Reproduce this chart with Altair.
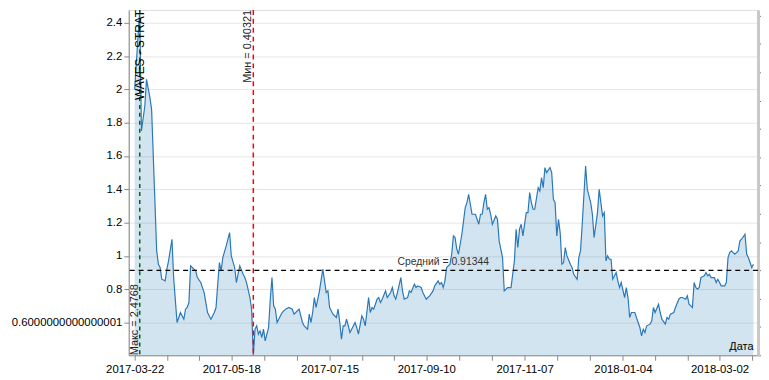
import json
import altair as alt
import pandas as pd

START = "2017-03-22"
day_offsets = [0, 3, 4, 6, 7, 9, 10, 13, 14, 15, 16, 18, 19, 20, 22, 23, 25, 27, 29, 30, 31, 32, 33, 36, 37, 39, 41, 43, 45, 47, 48, 49, 50, 51, 52, 54, 56, 57, 59, 60, 61, 62, 64, 65, 66, 68, 69, 70, 71, 72, 73, 74, 75, 76, 77, 79, 80, 81, 82, 83, 84, 86, 87, 89, 91, 93, 94, 95, 97, 99, 100, 102, 103, 104, 105, 106, 107, 109, 111, 112, 113, 114, 115, 117, 119, 120, 121, 122, 123, 124, 125, 127, 128, 130, 131, 132, 134, 135, 136, 138, 139, 140, 141, 143, 144, 145, 146, 148, 149, 151, 152, 153, 154, 155, 157, 158, 159, 161, 162, 163, 165, 166, 167, 169, 170, 172, 173, 174, 176, 177, 179, 180, 181, 182, 183, 184, 186, 187, 188, 189, 190, 191, 193, 194, 195, 196, 197, 199, 201, 203, 204, 205, 206, 207, 208, 209, 210, 211, 213, 214, 215, 217, 218, 220, 221, 222, 224, 225, 226, 227, 228, 229, 231, 232, 233, 234, 235, 236, 238, 239, 240, 241, 242, 243, 245, 246, 247, 248, 249, 250, 251, 252, 253, 254, 255, 257, 258, 259, 261, 262, 263, 264, 266, 267, 269, 270, 271, 273, 274, 275, 276, 277, 278, 279, 280, 281, 282, 284, 285, 286, 287, 289, 290, 291, 292, 293, 295, 297, 298, 299, 300, 301, 302, 304, 305, 306, 307, 309, 310, 311, 313, 314, 315, 316, 318, 319, 321, 322, 323, 325, 326, 327, 329, 330, 331, 332, 333, 334, 336, 337, 338, 339, 340, 342, 343, 344, 345, 346, 348, 349, 350, 351, 352, 354, 355, 356, 357, 358, 360, 361, 362, 363, 364, 365]
values = [2.00, 2.4768, 1.75, 1.90, 2.06, 1.95, 1.88, 1.03, 0.95, 0.93, 0.86, 0.85, 0.92, 0.97, 1.10, 0.87, 0.60, 0.66, 0.62, 0.68, 0.69, 0.72, 0.94, 0.91, 0.87, 0.84, 0.78, 0.66, 0.62, 0.66, 0.69, 0.83, 0.96, 0.91, 0.99, 1.06, 1.14, 1.00, 0.93, 0.84, 0.89, 0.94, 0.89, 0.87, 0.84, 0.75, 0.68, 0.40321, 0.56, 0.58, 0.53, 0.55, 0.51, 0.56, 0.49, 0.57, 0.74, 0.87, 0.70, 0.68, 0.60, 0.64, 0.66, 0.68, 0.69, 0.68, 0.65, 0.66, 0.68, 0.60, 0.58, 0.56, 0.65, 0.60, 0.66, 0.75, 0.69, 0.79, 0.92, 0.85, 0.78, 0.79, 0.69, 0.65, 0.63, 0.68, 0.60, 0.50, 0.58, 0.58, 0.62, 0.54, 0.56, 0.60, 0.57, 0.53, 0.64, 0.62, 0.58, 0.75, 0.66, 0.69, 0.68, 0.74, 0.75, 0.72, 0.74, 0.79, 0.75, 0.78, 0.81, 0.76, 0.74, 0.78, 0.87, 0.79, 0.74, 0.75, 0.79, 0.78, 0.83, 0.81, 0.82, 0.81, 0.78, 0.74, 0.75, 0.76, 0.79, 0.82, 0.85, 0.83, 0.84, 0.81, 0.85, 0.93, 0.95, 1.01, 1.12, 1.11, 1.04, 1.01, 1.13, 1.21, 1.29, 1.32, 1.37, 1.25, 1.25, 1.19, 1.25, 1.25, 1.32, 1.37, 1.28, 1.29, 1.25, 1.19, 1.24, 1.22, 1.09, 0.99, 0.79, 0.81, 0.81, 0.81, 0.97, 1.16, 1.05, 1.16, 1.19, 1.12, 1.26, 1.26, 1.38, 1.32, 1.28, 1.28, 1.41, 1.39, 1.47, 1.41, 1.53, 1.50, 1.53, 1.50, 1.34, 1.32, 1.12, 1.22, 1.14, 0.95, 0.96, 1.05, 1.00, 0.95, 0.93, 0.89, 0.86, 0.99, 1.03, 1.19, 1.54, 1.40, 1.32, 1.25, 1.11, 1.26, 1.40, 1.32, 1.24, 1.26, 0.97, 1.00, 0.98, 0.98, 0.86, 0.90, 0.85, 0.81, 0.84, 0.75, 0.81, 0.75, 0.63, 0.66, 0.66, 0.60, 0.57, 0.52, 0.56, 0.54, 0.58, 0.59, 0.61, 0.69, 0.66, 0.71, 0.66, 0.62, 0.59, 0.63, 0.62, 0.65, 0.66, 0.69, 0.74, 0.75, 0.75, 0.74, 0.76, 0.71, 0.69, 0.84, 0.81, 0.80, 0.81, 0.87, 0.88, 0.90, 0.88, 0.89, 0.87, 0.87, 0.84, 0.86, 0.84, 0.82, 0.82, 0.84, 0.99, 1.02, 1.03, 1.01, 1.02, 1.03, 1.09, 1.10, 1.13, 1.01, 0.99, 0.96, 0.93, 0.95]

max_value = 2.4768
min_value = 0.40321
mean_value = 0.91344
max_day = 3
min_day = 70
title_text = "WAVES - STRAT"
max_label = "Макс = 2.4768"
min_label = "Мин = 0.40321"
mean_label = "Средний = 0.91344"
x_title = "Дата"
x_tick_labels = ["2017-03-22", "2017-05-18", "2017-07-15", "2017-09-10",
                 "2017-11-07", "2018-01-04", "2018-03-02"]
y_tick_values = [0.6000000000000001, 0.8, 1.0, 1.2, 1.4, 1.6, 1.8, 2.0, 2.2, 2.4]

FONT = "Liberation Sans"
start = pd.Timestamp(START)
epoch = pd.Timestamp("1970-01-01")


def d2s(d):
    return (start + pd.Timedelta(days=d)).strftime("%Y-%m-%d")


def ms(ts):
    return int(round((ts - epoch) / pd.Timedelta(milliseconds=1)))


df = pd.DataFrame({"date": [d2s(d) for d in day_offsets], "value": values})

x_domain = [ms(start - pd.Timedelta(days=3.5)), ms(start + pd.Timedelta(days=367.7))]

# labelled ticks on the label dates, two unlabelled ticks between each pair
label_ts = [pd.Timestamp(s) for s in x_tick_labels]
tick_vals = []
for a, b in zip(label_ts[:-1], label_ts[1:]):
    tick_vals += [ms(a), ms(a + (b - a) / 3), ms(a + 2 * (b - a) / 3)]
last_gap = (label_ts[-1] - label_ts[-2]) / 3
tick_vals += [ms(label_ts[-1]), ms(label_ts[-1] + last_gap)]

label_expr = ("indexof(" + json.dumps(x_tick_labels) + ", utcFormat(datum.value, '%Y-%m-%d')) >= 0"
              " ? utcFormat(datum.value, '%Y-%m-%d') : ''")

x_enc = alt.X(
    "date:T",
    scale=alt.Scale(type="utc", domain=x_domain),
    axis=alt.Axis(values=tick_vals, tickCount=len(tick_vals) + 5, labelExpr=label_expr,
                  title=None, grid=False, tickSize=5, domainColor="#888888",
                  tickColor="#888888", labelColor="#000000", labelFontSize=11.5,
                  labelFont=FONT, labelPadding=3, labelOverlap=False, labelFlush=False),
)
y_enc = alt.Y(
    "value:Q",
    scale=alt.Scale(domain=[min_value, max_value], zero=False, nice=False),
    axis=alt.Axis(values=y_tick_values, tickCount=len(y_tick_values) + 5,
                  labelExpr="datum.value + ''", title=None,
                  grid=True, gridColor="#e6e6e6", tickSize=5, labelOverlap=False,
                  domainColor="#888888", tickColor="#888888", labelColor="#000000",
                  labelFontSize=11.5, labelFont=FONT, labelPadding=2),
)

area = alt.Chart(df).mark_area(color="#1f77b4", opacity=0.2, clip=True).encode(
    x=x_enc, y=y_enc, y2=alt.Y2(datum=min_value))
line = alt.Chart(df).mark_line(color="#2a78b8", strokeWidth=1.2, clip=True).encode(
    x=x_enc, y=y_enc)

df_max = pd.DataFrame({"date": [d2s(max_day)]})
df_min = pd.DataFrame({"date": [d2s(min_day)]})
df_mid = pd.DataFrame({"date": [d2s(182)]})
df_end = pd.DataFrame({"date": [d2s(day_offsets[-1])]})

max_rule = alt.Chart(df_max).mark_rule(color="#006400", strokeDash=[4, 4], strokeWidth=1.5).encode(x=x_enc)
min_rule = alt.Chart(df_min).mark_rule(color="#ff0000", strokeDash=[5, 4], strokeWidth=1.5).encode(x=x_enc)
mean_rule = alt.Chart(df_mid).mark_rule(color="#000000", strokeDash=[5, 4], strokeWidth=1.2).encode(
    y=alt.datum(mean_value))

title_mark = alt.Chart(df_max).mark_text(
    text=title_text, angle=270, align="right", baseline="middle", fontSize=12,
    font=FONT, color="#000000").encode(x=x_enc, y=alt.datum(max_value))
max_text = alt.Chart(df_max).mark_text(
    text=max_label, angle=270, align="left", baseline="bottom", fontSize=11,
    font=FONT, color="#222222").encode(x=x_enc, y=alt.datum(min_value))
min_text = alt.Chart(df_min).mark_text(
    text=min_label, angle=270, align="right", baseline="bottom", fontSize=11,
    font=FONT, color="#222222").encode(x=x_enc, y=alt.datum(max_value))
mean_text = alt.Chart(df_mid).mark_text(
    text=mean_label, align="center", baseline="bottom", dy=-3, fontSize=10.5,
    font=FONT, color="#333333").encode(x=x_enc, y=alt.datum(mean_value))
x_title_text = alt.Chart(df_end).mark_text(
    text=x_title, align="right", baseline="bottom", dy=-3, fontSize=11,
    font=FONT, color="#000000").encode(x=x_enc, y=alt.datum(min_value))

main = alt.layer(area, line, mean_rule, max_rule, min_rule, title_mark, max_text,
                 min_text, mean_text, x_title_text)

right_ticks = list(range(13))
right_axis = alt.Chart(df_end).mark_point(opacity=0).encode(
    x=x_enc,
    y=alt.Y(datum=0, scale=alt.Scale(domain=[0, 12.2], nice=False, zero=False),
            axis=alt.Axis(orient="right", values=right_ticks, tickCount=len(right_ticks) + 5,
                          labels=False, title=None, grid=False, tickSize=3,
                          tickColor="#777777", domainColor="#c8c8c8", domainWidth=3)),
)

chart = alt.layer(main, right_axis).resolve_scale(y="independent").properties(
    width=636, height=349,
    autosize=alt.AutoSizeParams(type="none"),
    padding={"left": 122, "top": 0, "right": 3, "bottom": 22},
).configure_view(strokeWidth=0).configure_axis(labelOverlap=False).configure(font=FONT)

chart.save("out.html", embed_options={"renderer": "svg", "actions": False})
